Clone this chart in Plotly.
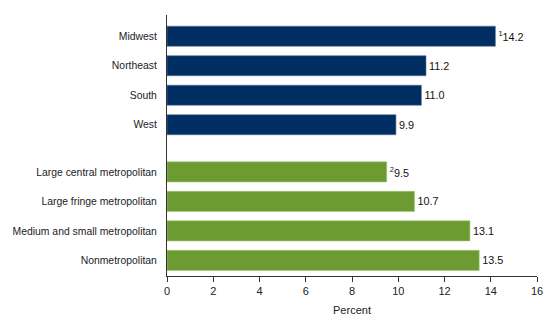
import plotly.graph_objects as go

regions = ["Midwest", "Northeast", "South", "West"]
region_values = [14.2, 11.2, 11.0, 9.9]
region_labels = ["<sup>1</sup>14.2", "11.2", "11.0", "9.9"]

urban = ["Large central metropolitan", "Large fringe metropolitan",
         "Medium and small metropolitan", "Nonmetropolitan"]
urban_values = [9.5, 10.7, 13.1, 13.5]
urban_labels = ["<sup>2</sup>9.5", "10.7", "13.1", "13.5"]

region_pos = [0, 1, 2, 3]
urban_pos = [4.6, 5.6, 6.6, 7.6]

x_ticks = [0, 2, 4, 6, 8, 10, 12, 14, 16]

fig = go.Figure()
fig.add_trace(go.Bar(
    y=region_pos, x=region_values, orientation="h", width=0.68,
    marker=dict(color="#002D62", line=dict(color="#5a7594", width=0.6)),
    text=region_labels, textposition="outside", cliponaxis=False,
    textfont=dict(family="Liberation Sans, Arial", size=10.8, color="#111111"),
    hoverinfo="skip",
))
fig.add_trace(go.Bar(
    y=urban_pos, x=urban_values, orientation="h", width=0.68,
    marker=dict(color="#6B9B31", line=dict(color="#a5c57d", width=0.6)),
    text=urban_labels, textposition="outside", cliponaxis=False,
    textfont=dict(family="Liberation Sans, Arial", size=10.8, color="#111111"),
    hoverinfo="skip",
))

fig.update_layout(
    width=560, height=329,
    margin=dict(l=167, r=23, t=15, b=53, autoexpand=False),
    paper_bgcolor="white", plot_bgcolor="white",
    showlegend=False,
    font=dict(family="Liberation Sans, Arial", size=11, color="#222222"),
    xaxis=dict(
        range=[0, 16], tickvals=x_ticks, ticks="outside", ticklen=5,
        tickcolor="#333333", showline=True, linecolor="#333333", linewidth=1,
        showgrid=False, zeroline=False, automargin=False,
        title=dict(text="Percent", font=dict(size=11), standoff=10),
        tickfont=dict(size=11),
    ),
    yaxis=dict(
        range=[8.13, -0.72], tickvals=region_pos + urban_pos,
        ticktext=regions + urban, ticks="", showline=True, automargin=False,
        linecolor="#333333", linewidth=1, showgrid=False, zeroline=False,
        ticklabelstandoff=7, tickfont=dict(size=10.4),
    ),
)

fig.write_html("out.html")
